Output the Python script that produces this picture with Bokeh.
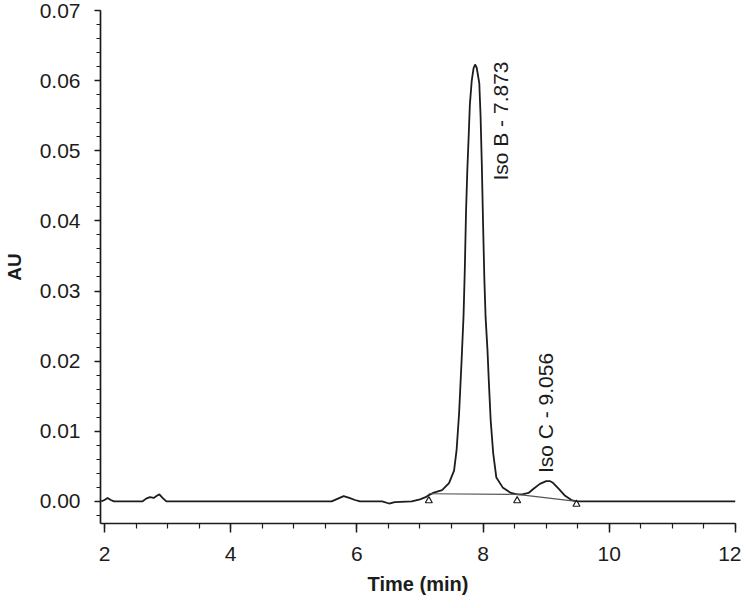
import math
from bokeh.plotting import figure
from bokeh.models import (ColumnDataSource, Range1d, SingleIntervalTicker, LinearAxis,
                          PrintfTickFormatter)
from bokeh.core.properties import value
from bokeh.embed import file_html
from bokeh.resources import INLINE

# ---- data ----
time_min = [1.95, 2.0, 2.05, 2.1, 2.15, 2.6, 2.66, 2.72, 2.78, 2.83, 2.87, 2.92, 2.98,
            5.6, 5.7, 5.79, 5.88, 5.97, 6.05, 6.4, 6.51, 6.6, 6.87, 7.0, 7.09, 7.14,
            7.22, 7.35, 7.46, 7.54, 7.58, 7.62, 7.66, 7.69, 7.71, 7.73, 7.75, 7.77,
            7.79, 7.82, 7.85, 7.873, 7.9, 7.94, 7.96, 7.98, 8.0, 8.02, 8.04, 8.07,
            8.09, 8.12, 8.16, 8.21, 8.31, 8.44, 8.54, 8.62, 8.72, 8.8, 8.9, 9.0,
            9.056, 9.1, 9.2, 9.3, 9.4, 9.48, 12.0]
absorbance = [0.0, 0.0002, 0.0005, 0.0002, 0.0, 0.0, 0.0004, 0.0006, 0.0005, 0.0008,
              0.001, 0.0005, 0.0, 0.0, 0.0004, 0.00076, 0.0005, 0.0002, 0.0, 0.0,
              -0.0003, -0.0001, 0.0, 0.0003, 0.0006, 0.0009, 0.00125, 0.0016, 0.0026,
              0.0044, 0.0073, 0.0126, 0.0202, 0.0264, 0.033, 0.0414, 0.0472, 0.0517,
              0.0565, 0.06, 0.0618, 0.0623, 0.0618, 0.0596, 0.055, 0.048, 0.0395,
              0.0317, 0.0262, 0.0215, 0.0173, 0.0116, 0.0069, 0.0034, 0.002, 0.0012,
              0.001, 0.001, 0.0012, 0.0018, 0.0025, 0.0029, 0.0029, 0.0027, 0.0018,
              0.0008, 0.0002, 0.0, 0.0]

# integration baseline and its markers
base_time = [7.14, 8.54, 9.48]
base_au = [0.0011, 0.001, 0.0]
marker_au = [0.0001, 0.0001, -0.0004]

# peak labels
peak_names = ["Iso B - 7.873", "Iso C - 9.056"]
peak_time = [7.873, 9.056]
peak_au = [0.0623, 0.0029]

INK = "#1c1c1c"
FONT = "Liberation Sans"

p = figure(width=741, height=603, output_backend="svg", toolbar_location=None,
           x_range=Range1d(1.937, 12.0), y_range=Range1d(-0.00315, 0.07),
           min_border_left=94, min_border_right=6, min_border_top=10,
           min_border_bottom=80, x_axis_type=None, y_axis_type=None)
p.outline_line_color = None
p.background_fill_color = "white"
p.border_fill_color = "white"

xaxis = LinearAxis(ticker=SingleIntervalTicker(interval=2, num_minor_ticks=4))
yaxis = LinearAxis(ticker=SingleIntervalTicker(interval=0.01, num_minor_ticks=5),
                   formatter=PrintfTickFormatter(format="%.2f"))
p.add_layout(xaxis, "below")
p.add_layout(yaxis, "left")

for ax in (xaxis, yaxis):
    ax.axis_line_color = INK
    ax.axis_line_width = 1.7
    ax.major_tick_line_color = INK
    ax.minor_tick_line_color = INK
    ax.major_tick_line_width = 1.5
    ax.minor_tick_line_width = 1.2
    ax.major_tick_in = 0
    ax.minor_tick_in = 0
    ax.major_label_text_font = FONT
    ax.major_label_text_color = INK
    ax.major_label_text_font_size = "21px"
    ax.axis_label_text_font = FONT
    ax.axis_label_text_font_style = "bold"
    ax.axis_label_text_color = INK

xaxis.axis_label = "Time (min)"
xaxis.axis_label_text_font_size = "20px"
xaxis.major_tick_out = 9
xaxis.minor_tick_out = 5
xaxis.major_label_standoff = 14
xaxis.axis_label_standoff = 9

yaxis.axis_label = "AU"
yaxis.axis_label_text_font_size = "19px"
yaxis.major_tick_out = 6
yaxis.minor_tick_out = 4
yaxis.major_label_standoff = 14
yaxis.axis_label_standoff = 12

p.xgrid.visible = False
p.ygrid.visible = False

trace = ColumnDataSource(dict(t=time_min, au=absorbance))
p.line("t", "au", source=trace, line_color=INK, line_width=1.8)

base = ColumnDataSource(dict(t=base_time, au=base_au, m=marker_au))
p.line("t", "au", source=base, line_color="#555555", line_width=1.1)
p.scatter("t", "m", source=base, marker="triangle", size=7, fill_color="white",
          line_color=INK, line_width=1.2)

p.text(x=[peak_time[0]], y=[peak_au[0]], text=[peak_names[0]], angle=math.pi / 2,
       text_align="right", text_baseline="middle", x_offset=25, y_offset=-3,
       text_font=value(FONT), text_font_size="21px", text_color=INK)
p.text(x=[peak_time[1]], y=[peak_au[1]], text=[peak_names[1]], angle=math.pi / 2,
       text_align="left", text_baseline="middle", x_offset=-4, y_offset=-8,
       text_font=value(FONT), text_font_size="21px", text_color=INK)

open("out.html", "w").write(file_html(p, INLINE))
